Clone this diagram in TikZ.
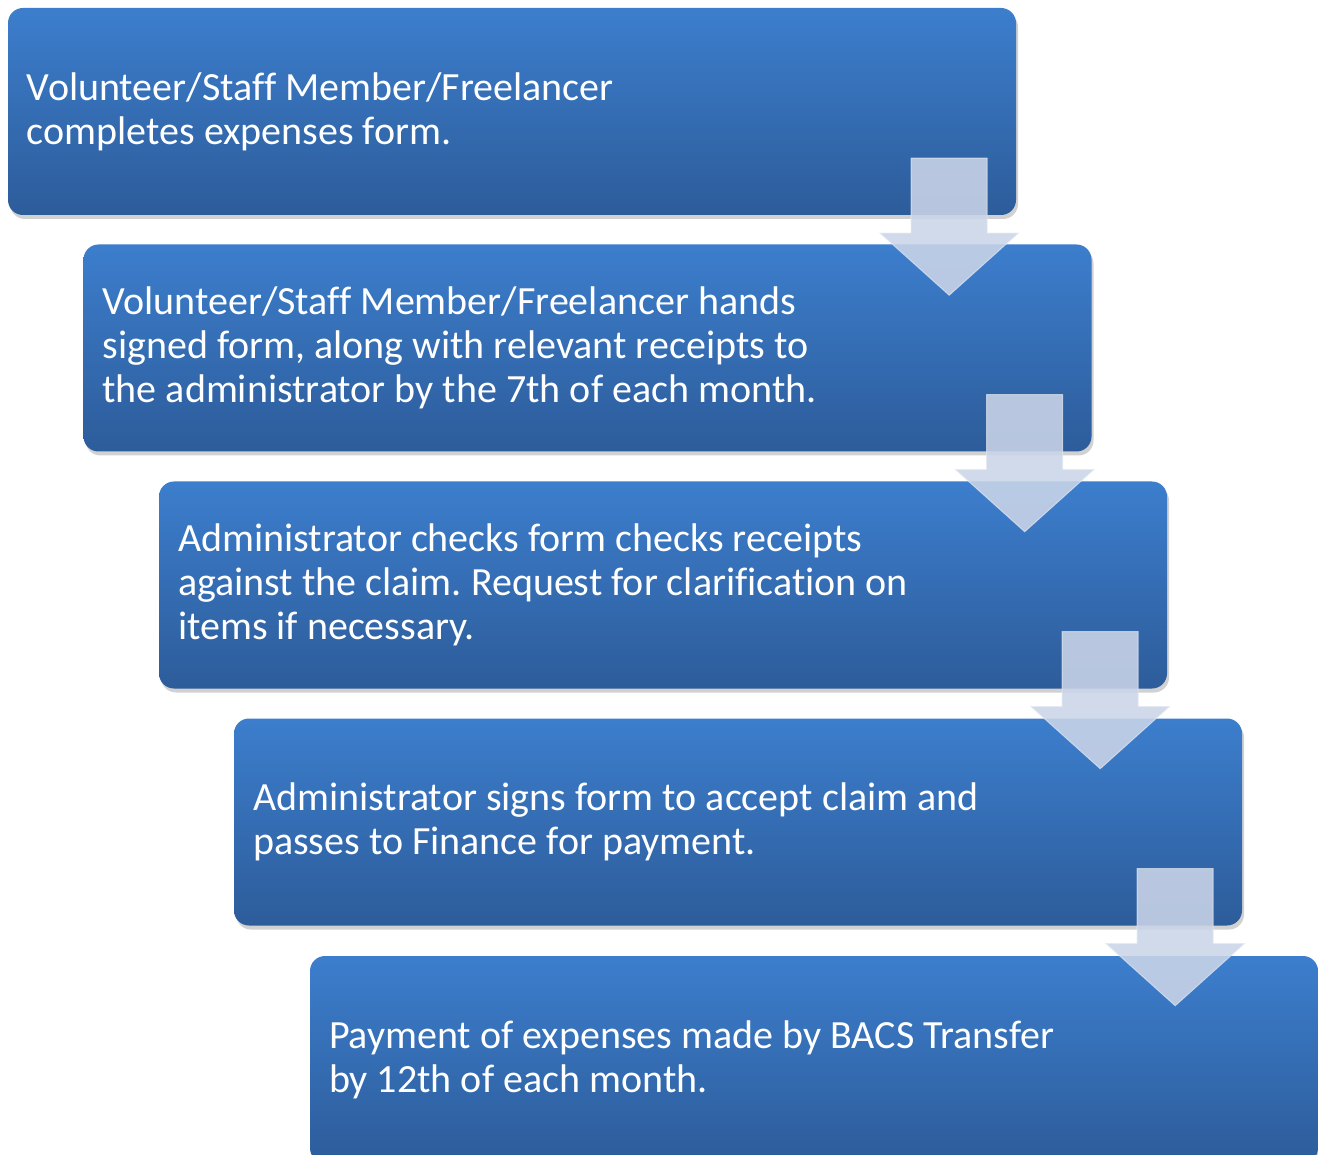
\documentclass[tikz,border=0pt]{standalone}
\usepackage{fontspec}
\setmainfont{Carlito}[Ligatures=NoCommon]
\frenchspacing
\usetikzlibrary{positioning}
\definecolor{boxtop}{RGB}{60,126,205}
\definecolor{boxbot}{RGB}{45,92,154}
\definecolor{arrowfill}{RGB}{203,213,232}
\definecolor{arrowedge}{RGB}{225,231,242}
\tikzset{
  stepbox/.style={rectangle, rounded corners=15pt, minimum width=1008pt, minimum height=207pt,
    text width=970pt, inner xsep=19pt, inner ysep=0pt, align=left, text=white,
    top color=boxtop, bottom color=boxbot, draw=none,
    font=\fontsize{40}{44}\selectfont,
    execute at begin node={\spaceskip=0pt\xspaceskip=0pt\relax}},
  boxshadow/.style={fill=black, opacity=0.18, rounded corners=15pt},
  flowarrow/.style={fill=arrowfill, fill opacity=0.88, draw=arrowedge, draw opacity=0.7, line width=1pt},
  pics/downarrow/.style={code={
    \path[flowarrow] (-38,0) -- (38,0) -- (38,75) -- (69,75) -- (0,137) -- (-69,75) -- (-38,75) -- cycle;
  }}
}
\begin{document}
\begin{tikzpicture}[x=1pt,y=-1pt]
\useasboundingbox[fill=white] (0,0) rectangle (1318,1155);
% shadows
\foreach \cx/\cy in {512/111.5, 587.5/348, 663/585, 738/822, 814/1059.5}{
  \fill[boxshadow] (\cx-504+2,\cy-103.5+4) rectangle (\cx+504+2,\cy+103.5+4);
}
\node[stepbox] (s1) at (512,111.5) {Volunteer/Staff Member/Freelancer\\completes expenses form.};
\node[stepbox] (s2) at (587.5,348) {Volunteer/Staff Member/Freelancer hands\\signed form, along with relevant receipts to\\the administrator by the 7th of each month.};
\node[stepbox] (s3) at (663,585) {Administrator checks form checks receipts\\against the claim. Request for clarification on\\items if necessary.};
\node[stepbox] (s4) at (738,822) {Administrator signs form to accept claim and\\passes to Finance for payment.};
\node[stepbox] (s5) at (814,1059.5) {Payment of expenses made by BACS Transfer\\by 12th of each month.};
% arrows between steps
\pic at ([xshift=-67pt,yshift=57pt]s1.south east) {downarrow};
\pic at ([xshift=-67pt,yshift=57pt]s2.south east) {downarrow};
\pic at ([xshift=-67pt,yshift=57pt]s3.south east) {downarrow};
\pic at ([xshift=-67pt,yshift=57pt]s4.south east) {downarrow};
\end{tikzpicture}
\end{document}
